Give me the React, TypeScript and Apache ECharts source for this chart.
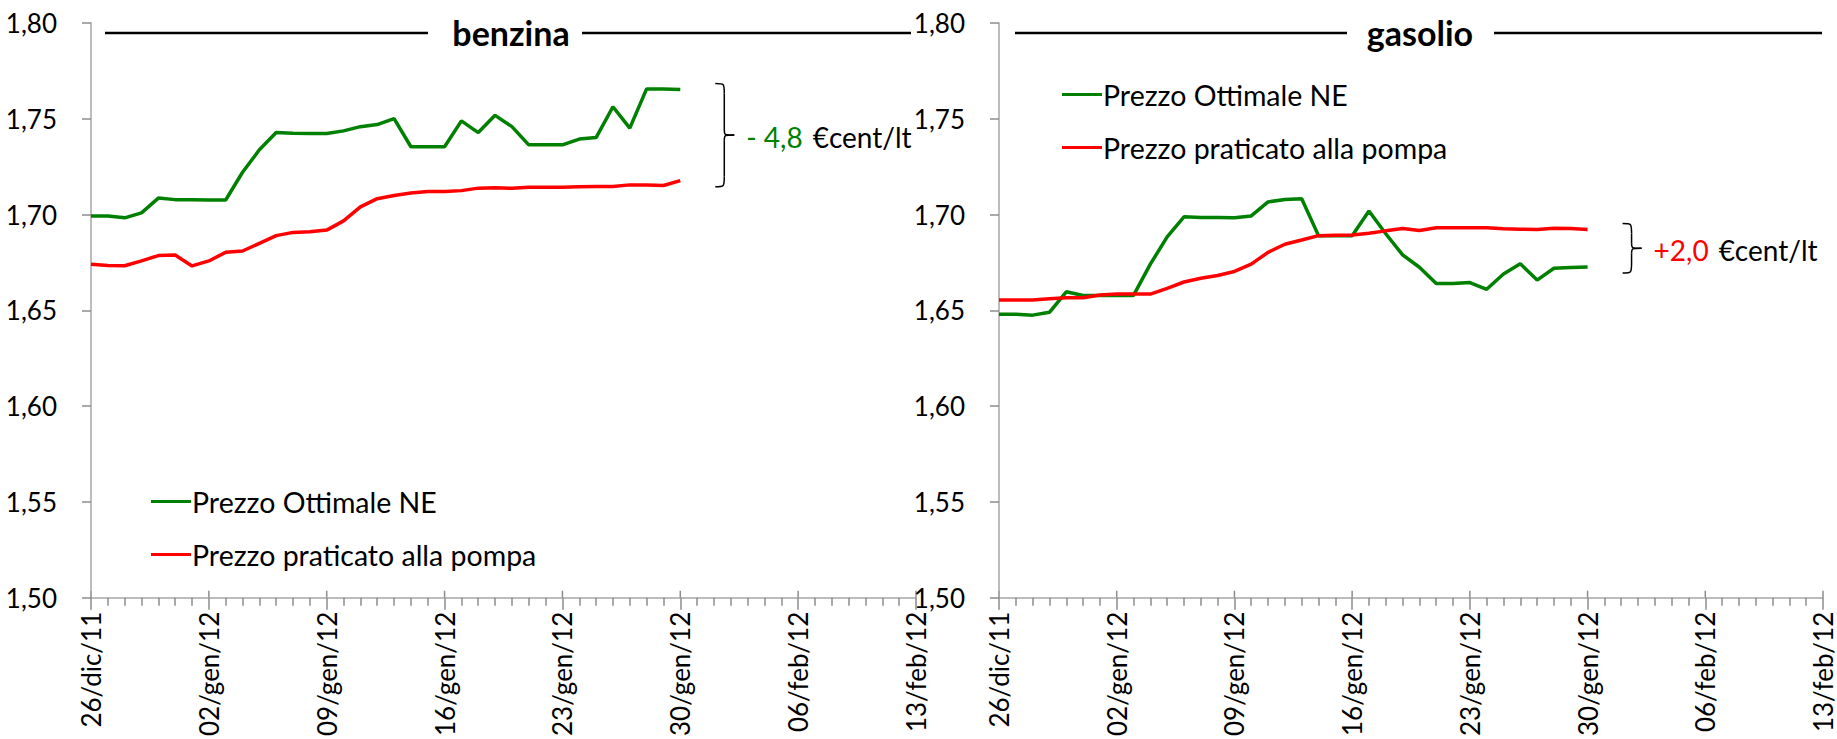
import React, { useEffect, useRef } from "react";
import * as echarts from "echarts";

const categories = [
  "26/dic/11", "27/dic/11", "28/dic/11", "29/dic/11", "30/dic/11", "31/dic/11",
  "01/gen/12", "02/gen/12", "03/gen/12", "04/gen/12", "05/gen/12", "06/gen/12", "07/gen/12", "08/gen/12",
  "09/gen/12", "10/gen/12", "11/gen/12", "12/gen/12", "13/gen/12", "14/gen/12", "15/gen/12",
  "16/gen/12", "17/gen/12", "18/gen/12", "19/gen/12", "20/gen/12", "21/gen/12", "22/gen/12",
  "23/gen/12", "24/gen/12", "25/gen/12", "26/gen/12", "27/gen/12", "28/gen/12", "29/gen/12",
  "30/gen/12", "31/gen/12", "01/feb/12", "02/feb/12", "03/feb/12", "04/feb/12", "05/feb/12",
  "06/feb/12", "07/feb/12", "08/feb/12", "09/feb/12", "10/feb/12", "11/feb/12", "12/feb/12",
  "13/feb/12",
];

const benzinaOttimale = [
  1.6993, 1.6993, 1.6983, 1.7009, 1.7086, 1.7078, 1.7078, 1.7076, 1.7076, 1.7221,
  1.7338, 1.7428, 1.7425, 1.7423, 1.7423, 1.7437, 1.7459, 1.747, 1.7501, 1.7354,
  1.7354, 1.7354, 1.7489, 1.7428, 1.7518, 1.7459, 1.7364, 1.7364, 1.7364, 1.7394,
  1.7402, 1.7563, 1.7451, 1.7656, 1.7655, 1.7653,
];
const benzinaPompa = [
  1.6741, 1.6734, 1.6733, 1.6758, 1.6786, 1.6789, 1.6732, 1.6758, 1.6803, 1.681,
  1.685, 1.689, 1.6907, 1.691, 1.6919, 1.6967, 1.704, 1.7083, 1.71, 1.7113,
  1.712, 1.712, 1.7125, 1.7138, 1.714, 1.7137, 1.7142, 1.7143, 1.7143, 1.7145,
  1.7146, 1.7147, 1.7155, 1.7155, 1.7152, 1.7177,
];
const gasolioOttimale = [
  1.648, 1.648, 1.6475, 1.649, 1.6597, 1.6578, 1.6578, 1.6578, 1.6578, 1.6741,
  1.6884, 1.6988, 1.6985, 1.6985, 1.6983, 1.6993, 1.7066, 1.7079, 1.7083, 1.689,
  1.689, 1.689, 1.7019, 1.69, 1.679, 1.6725, 1.664, 1.664, 1.6645, 1.661,
  1.669, 1.6743, 1.6658, 1.672, 1.6724, 1.6726,
];
const gasolioPompa = [
  1.6554, 1.6554, 1.6554, 1.656, 1.6566, 1.6566, 1.658, 1.6585, 1.6585, 1.6585,
  1.6615, 1.6648, 1.6668, 1.6682, 1.6703, 1.6741, 1.6803, 1.6845, 1.6867, 1.689,
  1.6892, 1.6893, 1.6902, 1.6915, 1.6927, 1.6917, 1.6931, 1.6931, 1.6931, 1.6931,
  1.6926, 1.6924, 1.6922, 1.6928, 1.6927, 1.6922,
];

const yMin = 1.5;
const yMax = 1.8;
const yStep = 0.05;
const xLabelStep = 7;
const seriesNames = ["Prezzo Ottimale NE", "Prezzo praticato alla pompa"];
const panelTitles = ["benzina", "gasolio"];
const deltaLabels = ["- 4,8", "+2,0"];
const deltaUnit = "€cent/lt";

const GREEN = "#008000";
const RED = "#ff0000";
const AXIS = "#a6a6a6";
const TICK = "#8c8c8c";
const FONT = "Lato";
const FS = 26;
const FS_LEG = 28.5;
const FS_TITLE = 34;

const grids = [
  { left: 91, top: 23, width: 825, height: 579 },
  { left: 999, top: 23, width: 824, height: 579 },
];

export default function App() {
  const ref = useRef<HTMLDivElement>(null);
  useEffect(() => {
    if (!ref.current) return;
    const chart = echarts.init(ref.current, null, { renderer: "svg" });
    const panels = [
      { ott: benzinaOttimale, pom: benzinaPompa, deltaColor: GREEN },
      { ott: gasolioOttimale, pom: gasolioPompa, deltaColor: RED },
    ];
    const xAxes: any[] = [];
    const yAxes: any[] = [];
    const series: any[] = [];
    grids.forEach((_, g) => {
      xAxes.push({
        type: "value",
        gridIndex: g,
        position: "bottom",
        min: 0,
        max: categories.length - 1,
        interval: xLabelStep,
        splitLine: { show: false },
        axisLine: { show: true, onZero: false, lineStyle: { color: AXIS, width: 1.5 } },
        axisTick: { show: true, length: 12, lineStyle: { color: TICK, width: 1.5 } },
        minorTick: { show: true, splitNumber: xLabelStep, length: 8, lineStyle: { color: TICK, width: 1.5 } },
        axisLabel: {
          show: true,
          rotate: 90,
          margin: 14,
          fontFamily: FONT,
          fontSize: FS,
          color: "#000",
          showMinLabel: true,
          showMaxLabel: true,
          formatter: (v: number) => categories[Math.round(v)] ?? "",
        },
      });
      yAxes.push({
        type: "value",
        gridIndex: g,
        min: yMin,
        max: yMax,
        interval: yStep,
        splitLine: { show: false },
        axisLine: { show: true, lineStyle: { color: AXIS, width: 1.5 } },
        axisTick: { show: true, length: 9, lineStyle: { color: TICK, width: 1.5 } },
        axisLabel: {
          fontFamily: FONT,
          fontSize: FS,
          color: "#000",
          margin: 34,
          formatter: (v: number) => v.toFixed(2).replace(".", ","),
        },
      });
      const p = panels[g];
      series.push({
        name: seriesNames[0],
        type: "line",
        xAxisIndex: g,
        yAxisIndex: g,
        data: p.ott.map((v, i) => [i, v]),
        symbol: "none",
        lineStyle: { color: GREEN, width: 3.5 },
        itemStyle: { color: GREEN },
      });
      series.push({
        name: seriesNames[1],
        type: "line",
        xAxisIndex: g,
        yAxisIndex: g,
        data: p.pom.map((v, i) => [i, v]),
        symbol: "none",
        lineStyle: { color: RED, width: 3.5 },
        itemStyle: { color: RED },
      });
    });

    const legendCommon = {
      orient: "vertical",
      icon: "rect",
      itemWidth: 40,
      itemHeight: 3,
      itemGap: 24,
      data: seriesNames,
      textStyle: { fontFamily: FONT, fontSize: FS_LEG, color: "#000", padding: [0, 0, 0, -4] },
      selectedMode: false,
    };

    chart.setOption({
      animation: false,
      grid: grids.map((g) => ({ ...g, containLabel: false })),
      xAxis: xAxes,
      yAxis: yAxes,
      series,
      legend: [
        { ...legendCommon, left: 146, top: 482 },
        { ...legendCommon, left: 1057, top: 75 },
      ],
    });

    const titleLayout = [
      { l1: [105, 428], l2: [582, 911], cx: 511 },
      { l1: [1015, 1347], l2: [1494, 1822], cx: 1420 },
    ];
    const graphics: any[] = [];
    titleLayout.forEach((t, g) => {
      const ty = 33;
      graphics.push({ type: "line", shape: { x1: t.l1[0], y1: ty, x2: t.l1[1], y2: ty }, style: { stroke: "#000", lineWidth: 2.5 } });
      graphics.push({ type: "line", shape: { x1: t.l2[0], y1: ty, x2: t.l2[1], y2: ty }, style: { stroke: "#000", lineWidth: 2.5 } });
      graphics.push({
        type: "text",
        x: t.cx,
        y: ty - 1,
        style: { text: panelTitles[g], fontFamily: FONT, fontWeight: "bold", fontSize: FS_TITLE, fill: "#000", align: "center", verticalAlign: "middle" },
      });
    });

    panels.forEach((p, g) => {
      const last = p.ott.length - 1;
      const a = chart.convertToPixel({ xAxisIndex: g, yAxisIndex: g }, [last, p.ott[last]]) as number[];
      const b = chart.convertToPixel({ xAxisIndex: g, yAxisIndex: g }, [last, p.pom[last]]) as number[];
      for (let k = 0; k < categories.length; k += xLabelStep) {
        const px = chart.convertToPixel({ xAxisIndex: g, yAxisIndex: g }, [k, yMin]) as number[];
        graphics.push({ type: "line", shape: { x1: px[0], y1: px[1], x2: px[0], y2: px[1] - 7 }, style: { stroke: TICK, lineWidth: 1.5 } });
      }
      const yT = Math.min(a[1], b[1]) - 6;
      const yB = Math.max(a[1], b[1]) + 6;
      const yM = (yT + yB) / 2;
      const x0 = a[0] + 35;
      const xs = x0 + 9;
      const xt = xs + 10;
      const st = { stroke: "#000", lineWidth: 1.5, fill: "none" };
      const r = 5;
      graphics.push({ type: "bezierCurve", shape: { x1: x0, y1: yT, cpx1: xs, cpy1: yT, cpx2: xs, cpy2: yT, x2: xs, y2: yT + r * 2 }, style: st });
      graphics.push({ type: "line", shape: { x1: xs, y1: yT + r * 2, x2: xs, y2: yM - r }, style: st });
      graphics.push({ type: "bezierCurve", shape: { x1: xs, y1: yM - r, cpx1: xs, cpy1: yM, cpx2: xs, cpy2: yM, x2: xt, y2: yM }, style: st });
      graphics.push({ type: "bezierCurve", shape: { x1: xt, y1: yM, cpx1: xs, cpy1: yM, cpx2: xs, cpy2: yM, x2: xs, y2: yM + r }, style: st });
      graphics.push({ type: "line", shape: { x1: xs, y1: yM + r, x2: xs, y2: yB - r * 2 }, style: st });
      graphics.push({ type: "bezierCurve", shape: { x1: xs, y1: yB - r * 2, cpx1: xs, cpy1: yB, cpx2: xs, cpy2: yB, x2: x0, y2: yB }, style: st });
      graphics.push({
        type: "text",
        x: xt + 12,
        y: yM + 2,
        style: {
          text: "{d|" + deltaLabels[g] + "}{u|" + deltaUnit + "}",
          verticalAlign: "middle",
          rich: {
            d: { fontFamily: FONT, fontSize: 28, fill: p.deltaColor, color: p.deltaColor, padding: [0, 10, 0, 0] },
            u: { fontFamily: FONT, fontSize: 28, fill: "#000", color: "#000" },
          },
        },
      });
    });
    chart.setOption({ graphic: graphics });

    return () => chart.dispose();
  }, []);
  return <div ref={ref} style={{ position: "absolute", left: 0, top: 0, width: 1837, height: 739 }} />;
}
